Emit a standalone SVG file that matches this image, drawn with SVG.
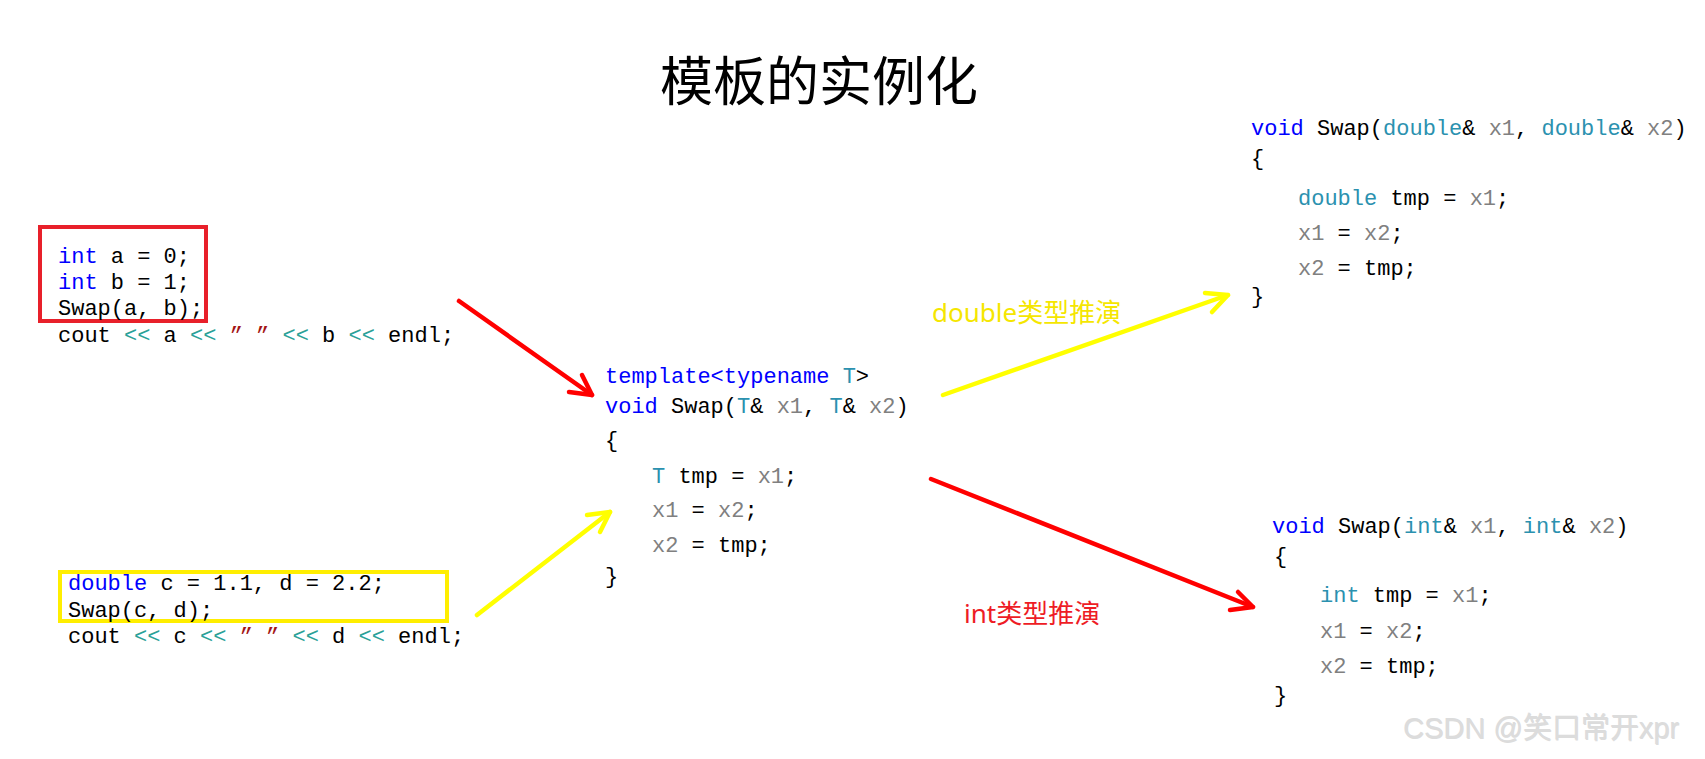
<svg xmlns="http://www.w3.org/2000/svg" width="1705" height="759" viewBox="0 0 1705 759">
<style>
.code{font-family:"Liberation Mono","DejaVu Sans Mono",monospace;font-size:22px;fill:#000;}
.kw{fill:#0000ff;}
.ty{fill:#2b91af;}
.pa{fill:#808080;}
.op{fill:#2aa198;}
.st{fill:#a31515;}
.title{font-family:"Noto Sans CJK SC","Noto Sans",sans-serif;font-size:53px;fill:#000;}
.lbl{font-family:"Noto Sans","Noto Sans CJK SC",sans-serif;font-size:26px;}
.red{stroke:#ff0000;stroke-width:4.5;fill:none;stroke-linecap:round;stroke-linejoin:round;}
.yel{stroke:#ffff00;stroke-width:4.5;fill:none;stroke-linecap:round;stroke-linejoin:round;}
.wm{font-family:"Liberation Sans","Noto Sans CJK SC",sans-serif;font-size:29px;fill:#dcdcdc;}
</style>
<rect width="1705" height="759" fill="#ffffff"/>
<text class="title" x="660" y="101">模板的实例化</text>

<g id="call-int">
<rect x="40" y="227" width="166" height="94" fill="none" stroke="#e8202a" stroke-width="4"/>
<text class="code" x="58" y="263"><tspan class="kw">int</tspan> a = 0;</text>
<text class="code" x="58" y="289"><tspan class="kw">int</tspan> b = 1;</text>
<text class="code" x="58" y="315">Swap(a, b);</text>
<text class="code" x="58" y="342">cout <tspan class="op">&lt;&lt;</tspan> a <tspan class="op">&lt;&lt;</tspan> <tspan class="st">” ”</tspan> <tspan class="op">&lt;&lt;</tspan> b <tspan class="op">&lt;&lt;</tspan> endl;</text>
</g>

<g id="call-double">
<rect x="60" y="572" width="387" height="49" fill="none" stroke="#ffee00" stroke-width="4"/>
<text class="code" x="68" y="590"><tspan class="kw">double</tspan> c = 1.1, d = 2.2;</text>
<text class="code" x="68" y="617">Swap(c, d);</text>
<text class="code" x="68" y="643">cout <tspan class="op">&lt;&lt;</tspan> c <tspan class="op">&lt;&lt;</tspan> <tspan class="st">” ”</tspan> <tspan class="op">&lt;&lt;</tspan> d <tspan class="op">&lt;&lt;</tspan> endl;</text>
</g>

<g id="template">
<text class="code" x="605" y="383"><tspan class="kw">template&lt;typename</tspan> <tspan class="ty">T</tspan>&gt;</text>
<text class="code" x="605" y="413"><tspan class="kw">void</tspan> Swap(<tspan class="ty">T</tspan>&amp; <tspan class="pa">x1</tspan>, <tspan class="ty">T</tspan>&amp; <tspan class="pa">x2</tspan>)</text>
<text class="code" x="605" y="447">{</text>
<text class="code" x="652" y="483"><tspan class="ty">T</tspan> tmp = <tspan class="pa">x1</tspan>;</text>
<text class="code" x="652" y="517"><tspan class="pa">x1</tspan> = <tspan class="pa">x2</tspan>;</text>
<text class="code" x="652" y="552"><tspan class="pa">x2</tspan> = tmp;</text>
<text class="code" x="605" y="583">}</text>
</g>

<g id="swap-double">
<text class="code" x="1251" y="135"><tspan class="kw">void</tspan> Swap(<tspan class="ty">double</tspan>&amp; <tspan class="pa">x1</tspan>, <tspan class="ty">double</tspan>&amp; <tspan class="pa">x2</tspan>)</text>
<text class="code" x="1251" y="165">{</text>
<text class="code" x="1298" y="205"><tspan class="ty">double</tspan> tmp = <tspan class="pa">x1</tspan>;</text>
<text class="code" x="1298" y="240"><tspan class="pa">x1</tspan> = <tspan class="pa">x2</tspan>;</text>
<text class="code" x="1298" y="275"><tspan class="pa">x2</tspan> = tmp;</text>
<text class="code" x="1251" y="303">}</text>
</g>

<g id="swap-int">
<text class="code" x="1272" y="533"><tspan class="kw">void</tspan> Swap(<tspan class="ty">int</tspan>&amp; <tspan class="pa">x1</tspan>, <tspan class="ty">int</tspan>&amp; <tspan class="pa">x2</tspan>)</text>
<text class="code" x="1274" y="563">{</text>
<text class="code" x="1320" y="602"><tspan class="ty">int</tspan> tmp = <tspan class="pa">x1</tspan>;</text>
<text class="code" x="1320" y="638"><tspan class="pa">x1</tspan> = <tspan class="pa">x2</tspan>;</text>
<text class="code" x="1320" y="673"><tspan class="pa">x2</tspan> = tmp;</text>
<text class="code" x="1274" y="702">}</text>
</g>

<g id="connectors">
<line class="red" x1="459" y1="301" x2="592" y2="395"/>
<polyline class="red" points="582,375 592,395 569,392"/>
<line class="yel" x1="477" y1="615" x2="610" y2="512"/>
<polyline class="yel" points="587,515 610,512 600,532"/>
<line class="yel" x1="943" y1="395" x2="1228" y2="295"/>
<polyline class="yel" points="1205,293 1228,295 1212,312"/>
<line class="red" x1="931" y1="479" x2="1253" y2="607"/>
<polyline class="red" points="1238,592 1253,607 1230,610"/>
<text class="lbl" x="932" y="322" fill="#f5e600">double类型推演</text>
<text class="lbl" x="964" y="623" fill="#ee1c25">int类型推演</text>
</g>

<text class="wm" x="1403" y="738" fill="#bdbdbd" transform="translate(0.8,0.8)">CSDN @笑口常开xpr</text>
<text class="wm" x="1403" y="738">CSDN @笑口常开xpr</text>
</svg>
